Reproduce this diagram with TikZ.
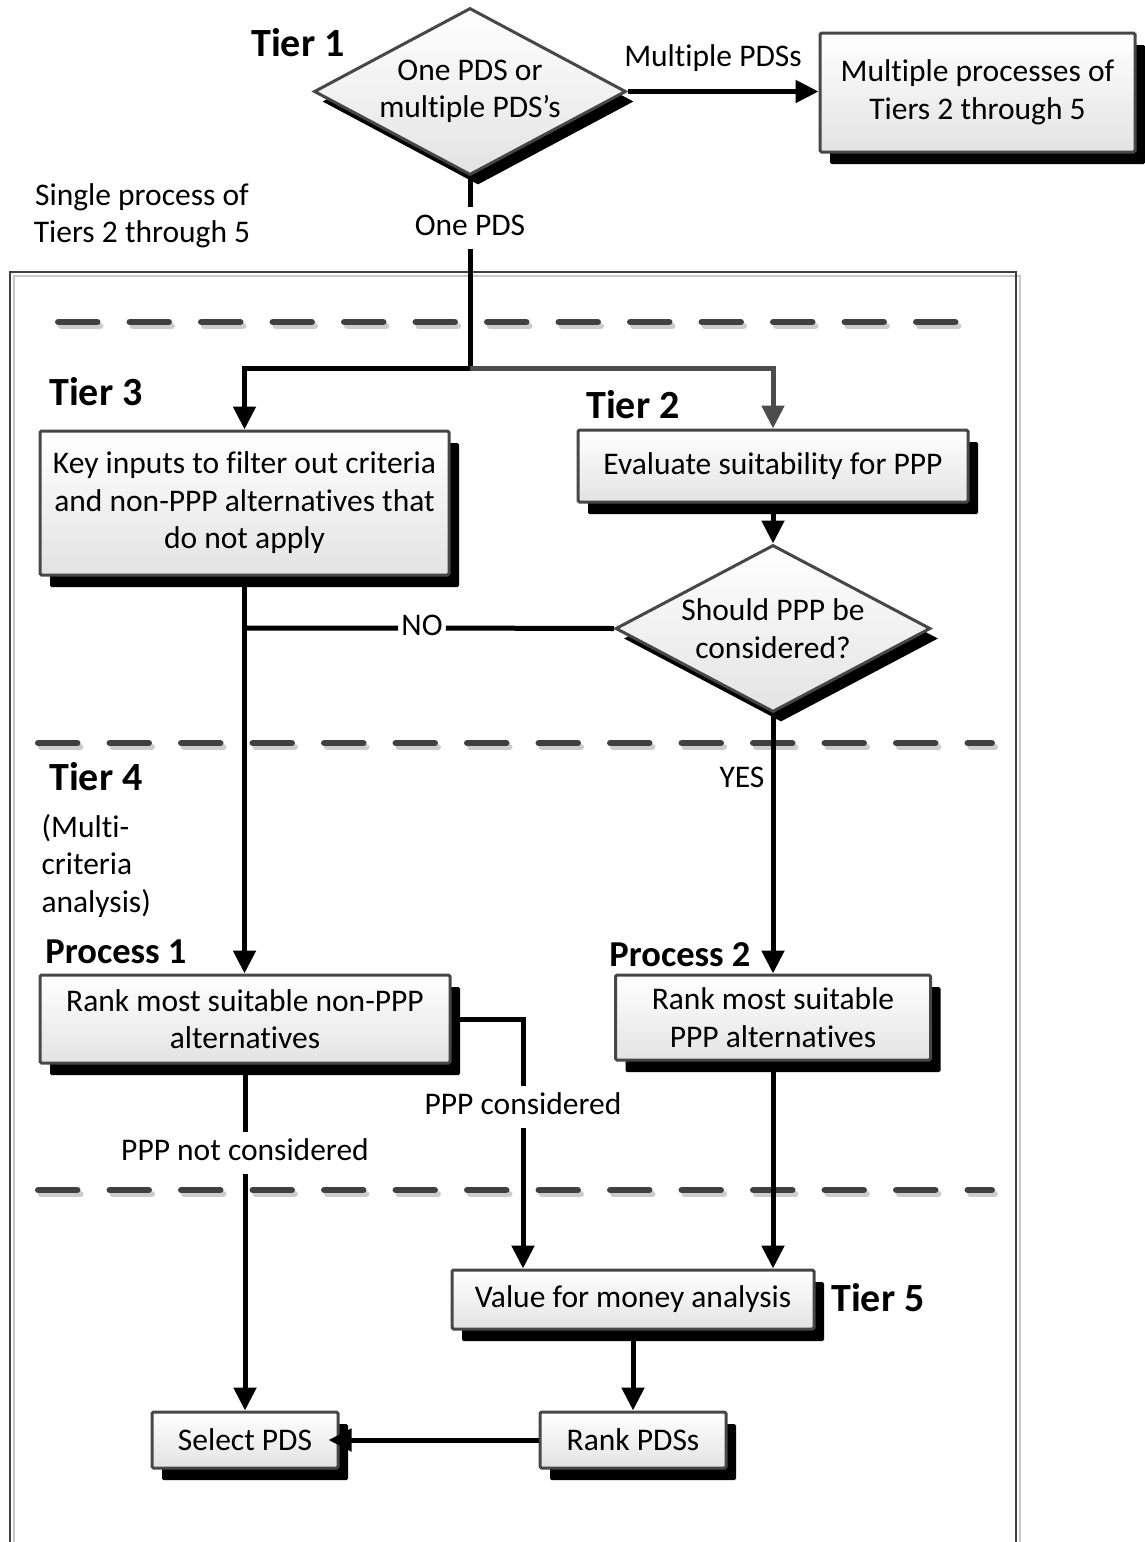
\documentclass[tikz,border=0pt]{standalone}
\usepackage{fontspec}
\setmainfont{Carlito}[Ligatures={NoCommon}]
\usetikzlibrary{shapes.geometric,arrows.meta,shadows}

\newcommand\regtext{\fontsize{31.5}{37.5}\selectfont}
\newcommand\tiertext{\fontsize{40}{46}\selectfont\bfseries}
\newcommand\proctext{\fontsize{36.5}{42}\selectfont\bfseries}

\begin{document}
\begin{tikzpicture}[x=1pt,y=1pt,
  every node/.style={font=\regtext},
  boxshadow/.style={drop shadow={shadow xshift=10pt,shadow yshift=-12pt,fill=black,opacity=1}},
  diamshadow/.style={drop shadow={shadow xshift=8pt,shadow yshift=-10pt,fill=black,opacity=1}},
  flowbox/.style={rectangle, draw=black!72, line width=3pt, rounded corners=1.5pt,
    top color=white, bottom color=black!11, boxshadow, align=center, inner sep=0pt},
  decision/.style={diamond, aspect=1.87, draw=black!72, line width=3pt,
    top color=white, bottom color=black!11, diamshadow, align=center, inner sep=0pt},
  conn/.style={line width=5pt, black},
  arr/.style={conn, -{Triangle[length=23pt,width=22pt]}},
  lbl/.style={fill=white, inner xsep=3pt, inner ysep=6pt, text height=22pt, text depth=7pt},
  tier/.style={font=\tiertext},
  proc/.style={font=\proctext},
  sepline/.style={line width=6.5pt, line cap=round, dash pattern=on 39pt off 32.5pt, black!75},
  sepshadow/.style={sepline, black!20},
]
\useasboundingbox (0,0) rectangle (1144,-1542);

% frame around tiers 2 to 5, with its light shadow
\draw[black!22, line width=2.5pt] (14,-1542) -- (14,-276) -- (1020,-276) -- (1020,-1542);
\draw[black!75, line width=2.5pt] (10,-1542) -- (10,-272) -- (1016,-272) -- (1016,-1542);

% tier separators
\foreach \y/\xa/\xb in {322/55/965, 743/35/995, 1190/35/995} {
  \draw[sepshadow] (\xa+6.25,-\y-4) -- (\xb-0.25,-\y-4);
  \draw[sepline] (\xa+3.25,-\y) -- (\xb-3.25,-\y);
}

% tier 1
\node[tier] (tier1) at (298,-43) {Tier 1};
\node[decision, minimum width=312pt, minimum height=167pt] (d1) at (470,-91.5) {One PDS or\\multiple PDS’s};
\node[flowbox, minimum width=315pt, minimum height=119pt] (mp) at (977.5,-92.5) {Multiple processes of\\Tiers 2 through 5};
\node (lmulti) at (713,-58) {Multiple PDSs};
\node[align=center] (single) at (142,-216) {Single process of\\Tiers 2 through 5};
\node[lbl] (lone) at (470,-228) {One PDS};
\coordinate (j) at (470,-368);

% tiers 2 and 3
\node[tier] (tier3) at (96,-392) {Tier 3};
\node[tier] (tier2) at (633,-405) {Tier 2};
\node[flowbox, minimum width=409pt, minimum height=144pt] (t3) at (244.5,-503) {Key inputs to filter out criteria\\and non-PPP alternatives that\\do not apply};
\node[flowbox, minimum width=390pt, minimum height=72pt] (t2) at (773,-466) {Evaluate suitability for PPP};
\node[decision, minimum width=315pt, minimum height=167pt] (d2) at (773,-628.5) {Should PPP be\\considered?};
\node[lbl] (lno) at (422,-628) {NO};

% tier 4
\node[tier] (tier4) at (96,-777) {Tier 4};
\node[align=left, anchor=west] (mca) at (38,-866) {(Multi-\\criteria\\analysis)};
\node (lyes) at (742,-777) {YES};
\node[proc] (proc1) at (116,-952) {Process 1};
\node[proc] (proc2) at (680,-955) {Process 2};
\node[flowbox, minimum width=410pt, minimum height=88pt] (p1) at (245,-1019) {Rank most suitable non-PPP\\alternatives};
\node[flowbox, minimum width=315pt, minimum height=85pt] (p2) at (773,-1017.5) {Rank most suitable\\PPP alternatives};
\node[lbl] (lpc) at (523,-1107) {PPP considered};
\node[lbl] (lpnc) at (245,-1153) {PPP not considered};

% tier 5
\node[tier] (tier5) at (878,-1298) {Tier 5};
\node[flowbox, minimum width=362pt, minimum height=59pt] (vfm) at (633,-1299.5) {Value for money analysis};
\node[flowbox, minimum width=186pt, minimum height=56pt] (rank) at (633,-1440) {Rank PDSs};
\node[flowbox, minimum width=186pt, minimum height=56pt] (sel) at (245,-1440) {Select PDS};

% connectors
\draw[arr] (d1.east) -- (d1.east -| mp.west);
\draw[conn] (d1.south) -- (lone) -- (j);
\draw[arr] (j) -| (t3.north);
\draw[arr, black!70] (j) -| (t2.north);
\draw[arr] (t2.south) -- (d2.north);
\draw[conn] (d2.west) -- (lno) -- (t3.south |- lno);
\draw[arr] (t3.south) -- (t3.south |- p1.north);
\draw[arr] (d2.south) -- (p2.north);
\draw[conn] (p1.east) -| (lpc);
\draw[arr] (lpc) -- (lpc |- vfm.north);
\draw[conn] (p1.south) -- (lpnc);
\draw[arr] (lpnc) -- (sel.north);
\draw[arr] (p2.south) -- (p2.south |- vfm.north);
\draw[arr] (vfm.south) -- (rank.north);
\draw[arr, shorten >=-11pt] (rank.west) -- (sel.east);
\end{tikzpicture}
\end{document}
